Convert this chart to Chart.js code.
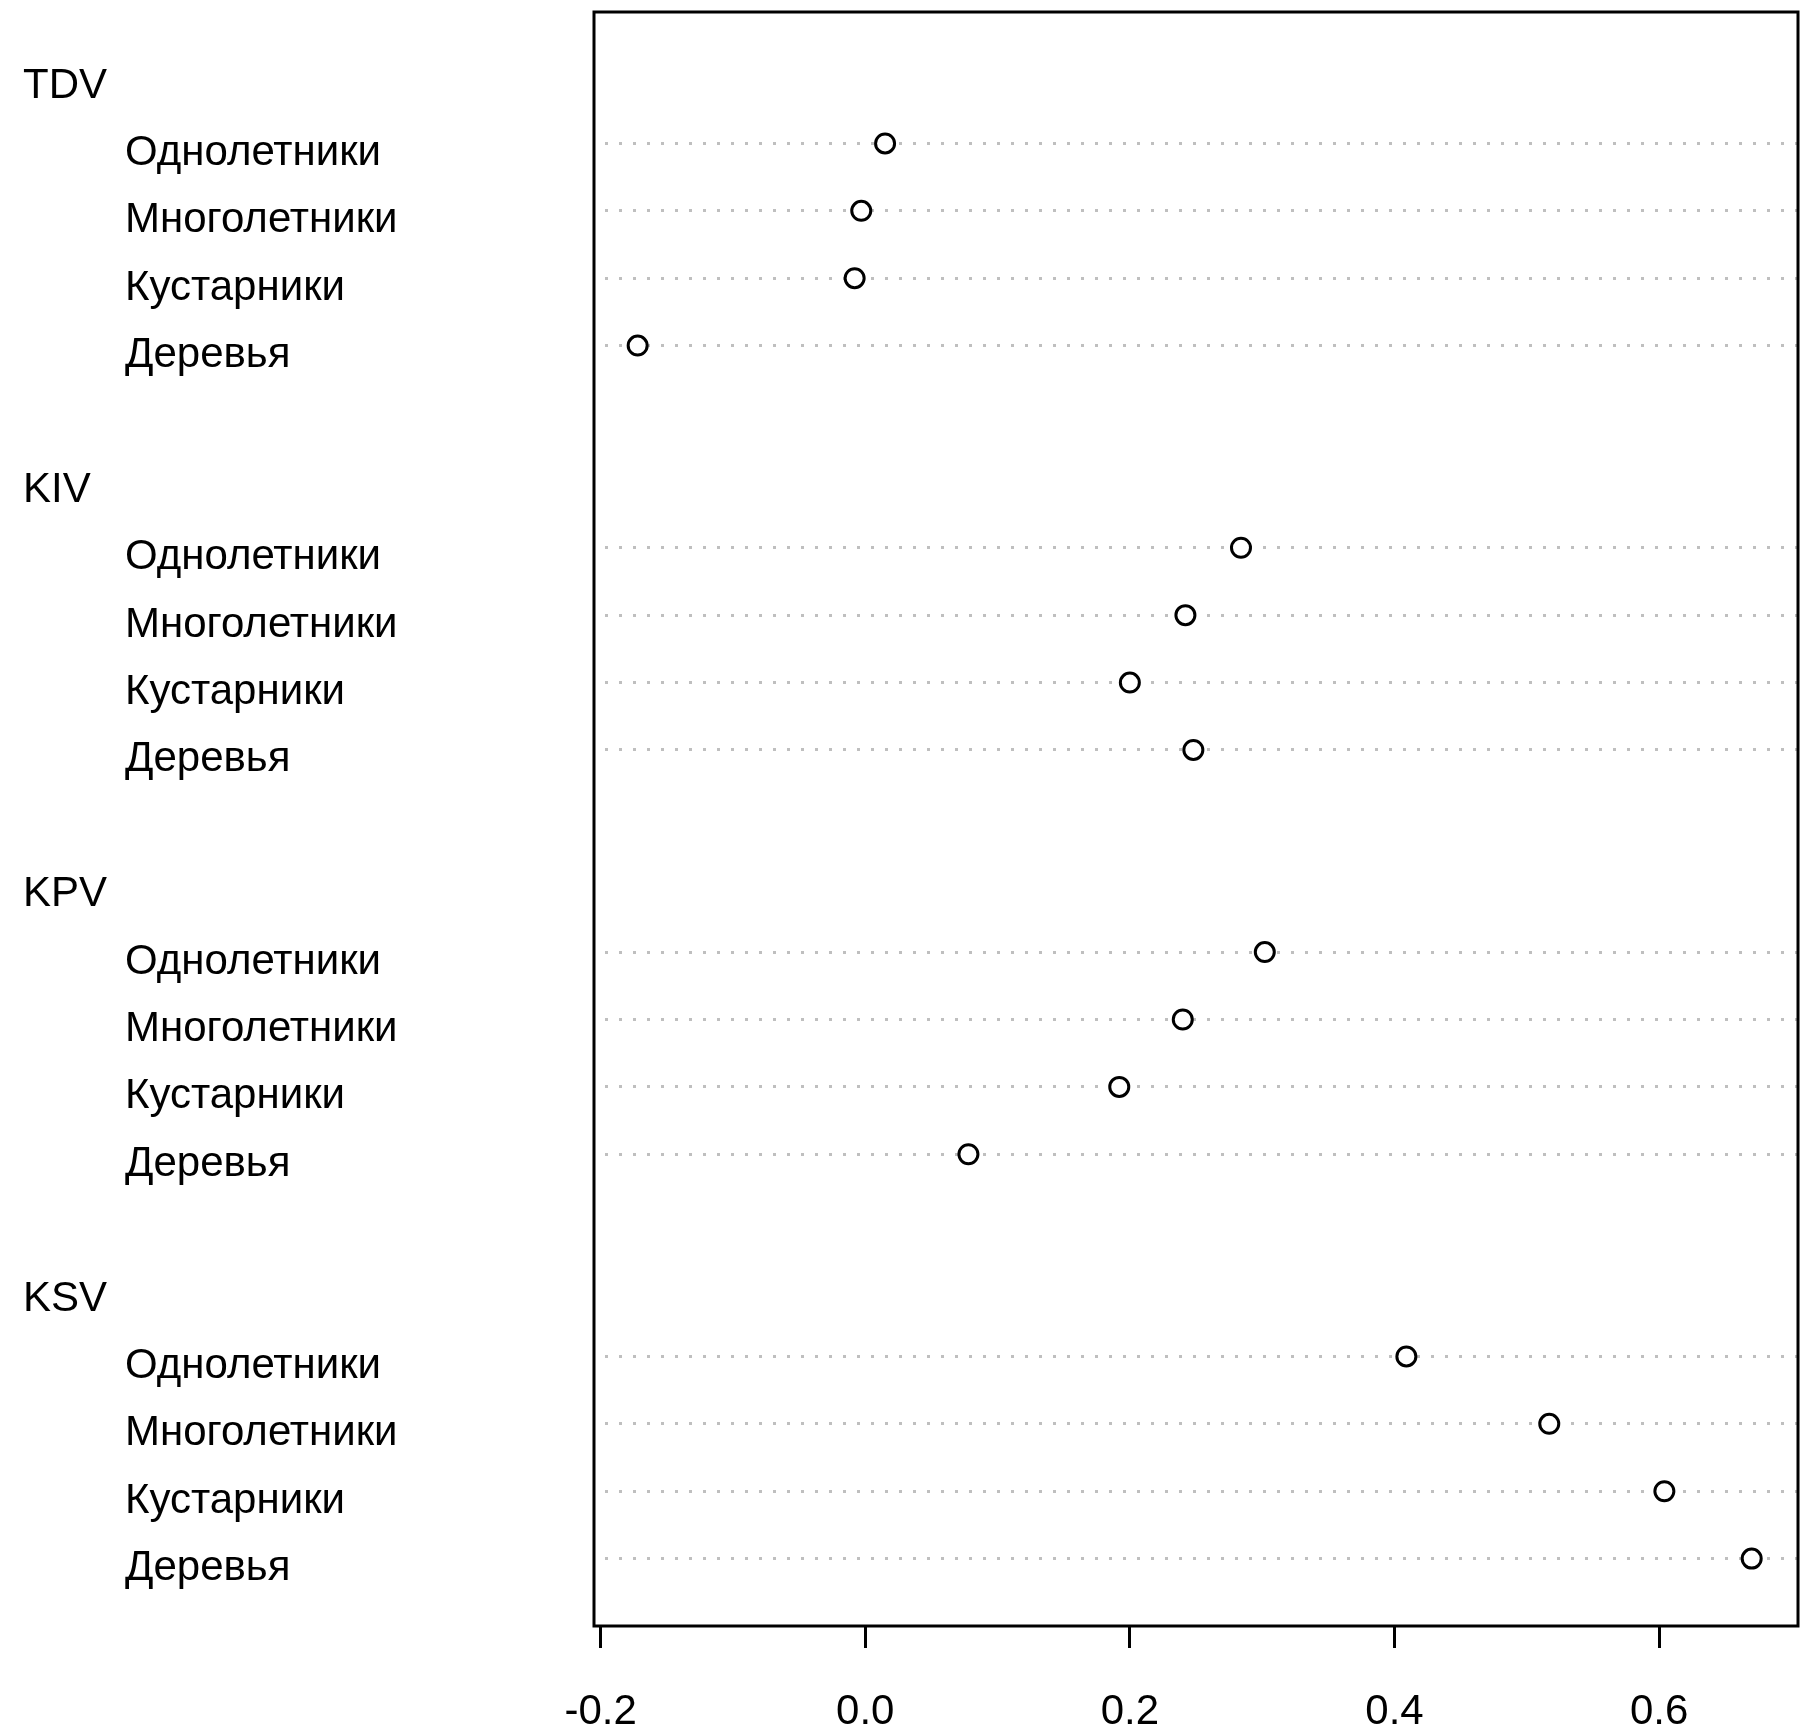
<!DOCTYPE html>
<html><head><meta charset="utf-8">
<script src="https://cdn.jsdelivr.net/npm/chart.js@4/dist/chart.umd.min.js"></script>
<style>html,body{margin:0;padding:0;background:#fff;}canvas{display:block;}</style>
</head><body>
<canvas id="c" width="1800" height="1733"></canvas>
<script>
const groups = ['TDV', 'KIV', 'KPV', 'KSV'];
const categories = ['Однолетники', 'Многолетники', 'Кустарники', 'Деревья'];
const valuesTDV = [0.015, -0.003, -0.008, -0.172];
const valuesKIV = [0.284, 0.242, 0.200, 0.248];
const valuesKPV = [0.302, 0.240, 0.192, 0.078];
const valuesKSV = [0.409, 0.517, 0.604, 0.670];
const xTickValues = [-0.2, 0.0, 0.2, 0.4, 0.6];

const groupValues = [valuesTDV, valuesKIV, valuesKPV, valuesKSV];
const rowsPerGroup = categories.length + 2;
const totalRows = groups.length * rowsPerGroup - 1;
const rows = [];
const points = [];
groups.forEach((g, gi) => {
  const top = totalRows - gi * rowsPerGroup;
  rows.push({ text: g, level: 0, y: top });
  categories.forEach((c, ci) => {
    const y = top - 1 - ci;
    rows.push({ text: c, level: 1, y: y });
    points.push({ x: groupValues[gi][ci], y: y });
  });
});
const itemRows = rows.filter(r => r.level === 1).map(r => r.y);

const FONT = '"Liberation Sans", Arial, sans-serif';

const rowLabels = {
  id: 'rowLabels',
  afterDraw(chart) {
    const ctx = chart.ctx, ys = chart.scales.y;
    ctx.save();
    ctx.fillStyle = '#000';
    ctx.font = '42px ' + FONT;
    ctx.textBaseline = 'alphabetic';
    ctx.textAlign = 'left';
    rows.forEach(r => {
      const py = ys.getPixelForValue(r.y) + 21.5;
      const px = r.level === 0 ? 23 : 125;
      ctx.fillText(r.text, px, py);
    });
    ctx.restore();
  }
};
const frame = {
  id: 'frame',
  afterDatasetsDraw(chart) {
    const a = chart.chartArea, ctx = chart.ctx;
    ctx.save();
    ctx.strokeStyle = '#000';
    ctx.lineWidth = 3;
    ctx.strokeRect(a.left, a.top, a.right - a.left, a.bottom - a.top);
    ctx.restore();
  }
};

new Chart(document.getElementById('c'), {
  type: 'scatter',
  data: {
    datasets: [{
      data: points,
      pointStyle: 'circle',
      pointRadius: 9.5,
      pointHoverRadius: 9.5,
      pointBorderWidth: 3,
      borderColor: '#000',
      backgroundColor: '#fff',
      showLine: false,
      clip: false
    }]
  },
  options: {
    responsive: false,
    animation: false,
    devicePixelRatio: 1,
    layout: { autoPadding: false, padding: { top: 12, right: 2, left: 0, bottom: 0 } },
    plugins: { legend: { display: false }, tooltip: { enabled: false } },
    scales: {
      x: {
        type: 'linear', min: -0.205, max: 0.705,
        afterBuildTicks: s => { s.ticks = xTickValues.map(v => ({ value: v })); },
        afterFit: s => { s.height = 107; s.paddingLeft = 0; s.paddingRight = 0; },
        grid: { drawOnChartArea: false, drawTicks: true, tickLength: 22, tickWidth: 3, tickColor: '#000', color: '#000' },
        border: { display: false },
        ticks: {
          color: '#000', padding: 43, maxRotation: 0, autoSkip: false,
          font: { family: FONT, size: 42, lineHeight: 1 },
          callback: v => Number(v).toFixed(1)
        }
      },
      y: {
        type: 'linear', min: 0, max: 23.95,
        afterBuildTicks: s => { s.ticks = itemRows.map(v => ({ value: v })); },
        afterFit: s => { s.width = 594; s.paddingTop = 0; s.paddingBottom = 0; },
        ticks: { display: false },
        grid: { drawTicks: false, color: '#bfbfbf', lineWidth: 3 },
        border: { display: false, dash: [3, 11], dashOffset: 3 }
      }
    }
  },
  plugins: [rowLabels, frame]
});
</script>
</body></html>
